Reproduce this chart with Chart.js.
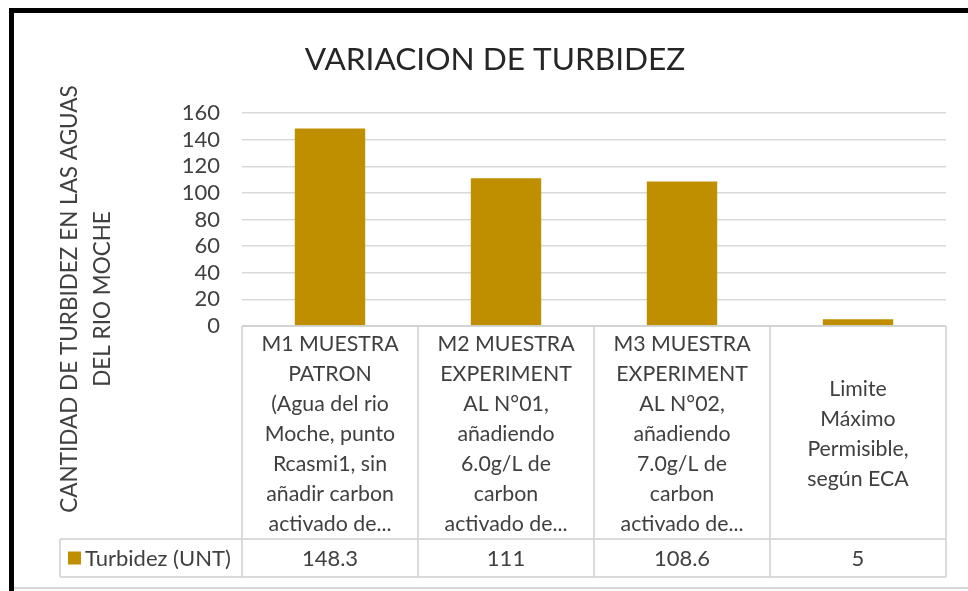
<!DOCTYPE html>
<html>
<head>
<meta charset="utf-8">
<script src="https://cdn.jsdelivr.net/npm/chart.js@4.4.1/dist/chart.umd.min.js"></script>
<style>
  html, body { margin: 0; padding: 0; background: #ffffff; }
  #wrap { width: 968px; height: 591px; position: relative; }
</style>
</head>
<body>
<div id="wrap"><canvas id="chart" width="968" height="591"></canvas></div>
<script>
// ---- data ----
const chartTitle = 'VARIACION DE TURBIDEZ';
const yAxisTitle = ['CANTIDAD DE TURBIDEZ EN LAS AGUAS', 'DEL RIO MOCHE'];
const seriesName = 'Turbidez (UNT)';
const categories = [
  ['M1 MUESTRA', 'PATRON', '(Agua del rio', 'Moche, punto', 'Rcasmi1, sin', 'añadir carbon', 'activado de...'],
  ['M2 MUESTRA', 'EXPERIMENT', 'AL N°01,', 'añadiendo', '6.0g/L de', 'carbon', 'activado de...'],
  ['M3 MUESTRA', 'EXPERIMENT', 'AL N°02,', 'añadiendo', '7.0g/L de', 'carbon', 'activado de...'],
  ['Limite', 'Máximo', 'Permisible,', 'según ECA']
];
const turbidez = [148.3, 111, 108.6, 5];
const yTickMin = 0;
const yTickMax = 160;
const yTickStep = 20;

// ---- style ----
const FONT = 'Lato, "Open Sans", sans-serif';
const BAR_COLOR = '#BF8F00';
const TEXT_COLOR = '#404040';
const GRID_COLOR = '#d9d9d9';
const TABLE_COLOR = '#d0d0d0';

const tablePlugin = {
  id: 'excelTable',
  afterDraw(chart) {
    const { ctx, chartArea: ca, scales } = chart;
    const xs = scales.x;
    const n = categories.length;
    const colW = (ca.right - ca.left) / n;
    const edges = [];
    for (let i = 0; i < n; i++) edges.push(xs.getPixelForValue(i) - colW / 2);
    edges.push(xs.getPixelForValue(n - 1) + colW / 2);

    const top = ca.bottom;
    const row1 = 539;
    const row2 = 577;
    const legendLeft = 60;

    ctx.save();
    // outer frame (black) and bottom line
    ctx.fillStyle = '#000000';
    ctx.fillRect(9, 8, 5, 583);
    ctx.fillRect(9, 8, 959, 5);
    ctx.fillStyle = '#d6d6d6';
    ctx.fillRect(14, 587, 954, 2);

    // title
    ctx.fillStyle = '#262626';
    ctx.font = '31.6px ' + FONT;
    ctx.textAlign = 'center';
    ctx.textBaseline = 'alphabetic';
    ctx.fillText(chartTitle, 495, 70);

    // y axis title (rotated)
    ctx.save();
    ctx.translate(0, 299);
    ctx.rotate(-Math.PI / 2);
    ctx.font = '22.5px ' + FONT;
    ctx.fillStyle = TEXT_COLOR;
    ctx.textAlign = 'center';
    ctx.fillText(yAxisTitle[0], 0, 77);
    ctx.fillText(yAxisTitle[1], 0, 110);
    ctx.restore();

    // table grid
    ctx.strokeStyle = TABLE_COLOR;
    ctx.lineWidth = 1.5;
    ctx.beginPath();
    ctx.moveTo(edges[0], top); ctx.lineTo(edges[n], top);
    ctx.moveTo(legendLeft, row1); ctx.lineTo(edges[n], row1);
    ctx.moveTo(legendLeft, row2); ctx.lineTo(edges[n], row2);
    for (const e of edges) { ctx.moveTo(e, top); ctx.lineTo(e, row2); }
    ctx.moveTo(legendLeft, row1); ctx.lineTo(legendLeft, row2);
    ctx.stroke();

    // category labels
    const fs = 21.3;
    const lh = 30;
    ctx.font = fs + 'px ' + FONT;
    ctx.fillStyle = TEXT_COLOR;
    ctx.textAlign = 'center';
    ctx.textBaseline = 'alphabetic';
    const midRow1 = (top + row1) / 2 + 1;
    categories.forEach((lines, i) => {
      const cx = xs.getPixelForValue(i);
      const y0 = midRow1 - (lines.length - 1) * lh / 2;
      lines.forEach((ln, j) => ctx.fillText(ln, cx, y0 + j * lh + fs * 0.36));
    });

    // values row
    const fs2 = 22;
    ctx.font = fs2 + 'px ' + FONT;
    const midRow2 = (row1 + row2) / 2;
    turbidez.forEach((v, i) => {
      ctx.fillText(String(v), xs.getPixelForValue(i), midRow2 + fs2 * 0.36);
    });

    // legend key
    ctx.fillStyle = BAR_COLOR;
    ctx.fillRect(68, midRow2 - 6.5, 13, 13);
    ctx.fillStyle = TEXT_COLOR;
    ctx.textAlign = 'left';
    ctx.fillText(seriesName, 85, midRow2 + fs2 * 0.36);
    ctx.restore();
  }
};

new Chart(document.getElementById('chart'), {
  type: 'bar',
  data: {
    labels: categories,
    datasets: [{
      label: seriesName,
      data: turbidez,
      backgroundColor: BAR_COLOR,
      borderWidth: 0,
      categoryPercentage: 1.0,
      barPercentage: 0.4
    }]
  },
  options: {
    responsive: false,
    animation: false,
    layout: { padding: { left: 0, right: 22, top: 113, bottom: 265 } },
    plugins: {
      legend: { display: false },
      title: { display: false },
      tooltip: { enabled: false }
    },
    scales: {
      x: { display: false },
      y: {
        min: yTickMin,
        max: yTickMax,
        afterFit(scale) { scale.width = 242; },
        ticks: {
          stepSize: yTickStep,
          autoSkip: false,
          padding: 22,
          color: TEXT_COLOR,
          font: { family: FONT, size: 22 }
        },
        grid: { color: GRID_COLOR, lineWidth: 1.5, drawTicks: false },
        border: { display: false }
      }
    }
  },
  plugins: [tablePlugin]
});
</script>
</body>
</html>
